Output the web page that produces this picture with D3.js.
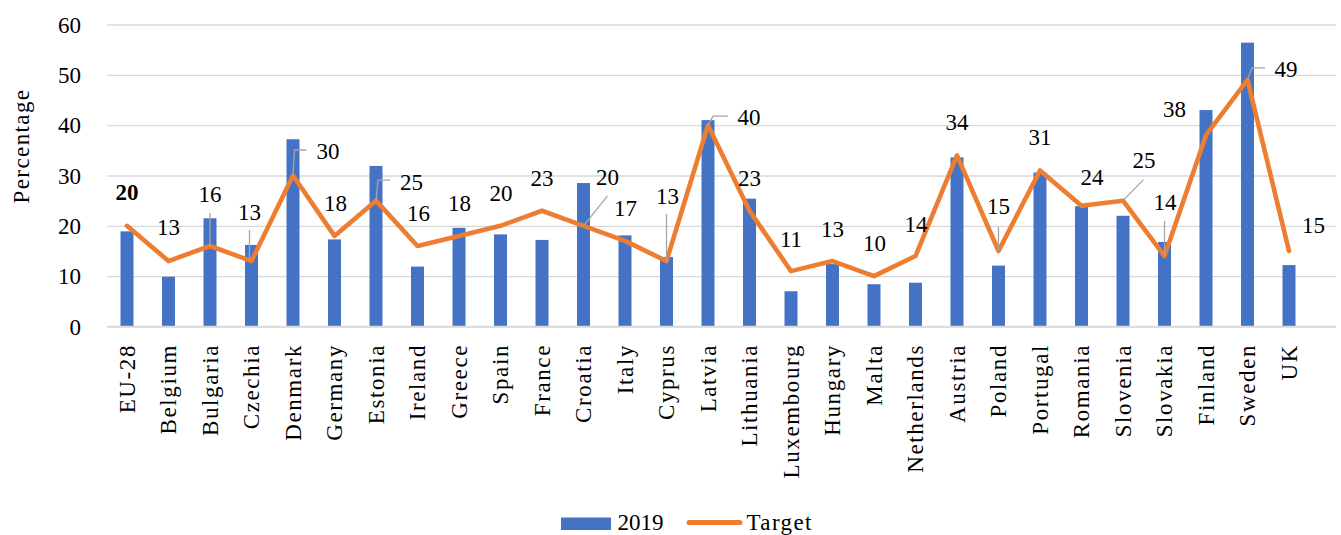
<!DOCTYPE html>
<html>
<head>
<meta charset="utf-8">
<script src="https://cdn.jsdelivr.net/npm/d3@7"></script>
<style>
  body { margin: 0; background: #fff; }
  svg text { font-family: "Liberation Serif", "Times New Roman", serif; }
</style>
</head>
<body>
<svg id="chart" width="1341" height="535"></svg>
<script>
// ---------- data ----------
const categories = ["EU-28","Belgium","Bulgaria","Czechia","Denmark","Germany","Estonia","Ireland","Greece","Spain","France","Croatia","Italy","Cyprus","Latvia","Lithuania","Luxembourg","Hungary","Malta","Netherlands","Austria","Poland","Portugal","Romania","Slovenia","Slovakia","Finland","Sweden","UK"];
const values2019 = [18.9, 9.9, 21.5, 16.2, 37.2, 17.3, 31.9, 11.9, 19.6, 18.3, 17.2, 28.5, 18.1, 13.8, 41.0, 25.4, 7.0, 12.4, 8.4, 8.7, 33.6, 12.1, 30.6, 23.9, 22.0, 16.8, 43.0, 56.4, 12.2];
const targetValues = [20, 13, 16, 13, 30, 18, 25, 16, 18, 20, 23, 20, 17, 13, 40, 23, 11, 13, 10, 14, 34, 15, 31, 24, 25, 14, 38, 49, 15];
const yTicks = [0, 10, 20, 30, 40, 50, 60];
const seriesNames = ["2019", "Target"];

// ---------- label layout (pixel offsets from each Target point) ----------
const labelOffsets = [
  [0,-26],[0,-26],[0,-44],[-2,-41],[35,-16.5],[1,-25],[35.5,-10.5],[1,-25],[0.5,-25],[0.5,-25],
  [0,-25],[24,-41],[0.5,-25],[1,-57],[41,0],[0,-25],[0,-24],[0,-24],[0.5,-25],[0.5,-24],
  [0,-25],[0,-37],[0,-25],[10.5,-21],[21,-33],[0.5,-46],[-31.5,-18],[38.5,-2.5],[24.5,-18]
];
const leaderLines = {
  2: [[0,0],[0,-33]],
  3: [[-2,0],[-2,-31]],
  4: [[0,0],[1.5,-25.5],[13.5,-25.5]],
  6: [[0,0],[2,-20.5],[14,-20.5]],
  11: [[0,0],[24,-30]],
  13: [[0,0],[0,-47]],
  14: [[0,0],[5,-9],[20,-9]],
  21: [[0,0],[0,-24]],
  24: [[0,0],[20.5,-21]],
  25: [[0,0],[0,-35]],
  27: [[0,0],[4.5,-12],[17.5,-12]]
};

// ---------- chart ----------
const svg = d3.select("#chart");
const plotLeft = 107, plotRight = 1336, plotTop = 24.5, plotBottom = 326.5;
const FS = 23;

const x = d3.scaleBand()
  .domain(categories)
  .range([106.25, 1309.75])
  .paddingInner(0.687)
  .paddingOuter(0.3435);
const cx = c => x(c) + x.bandwidth() / 2;

const y = d3.scaleLinear().domain([0, 60]).range([plotBottom, plotTop]);

// gridlines + y tick labels
const yAxis = svg.append("g")
  .attr("transform", `translate(${plotLeft},0)`)
  .call(d3.axisLeft(y).tickValues(yTicks).tickSize(-(plotRight - plotLeft)).tickPadding(26));
yAxis.select(".domain").remove();
yAxis.selectAll(".tick line").attr("stroke", "#d9d9d9").attr("stroke-width", 1.4);
yAxis.selectAll(".tick text")
  .attr("font-size", FS)
  .attr("fill", "#000")
  .attr("dy", "0.34em")
  .style("font-family", '"Liberation Serif", serif');

// y-axis title
svg.append("text")
  .attr("transform", "translate(28.5,146) rotate(-90)")
  .attr("text-anchor", "middle")
  .attr("font-size", FS)
  .attr("letter-spacing", 1.4)
  .attr("fill", "#000")
  .text("Percentage");

// bars
svg.append("g").selectAll("rect")
  .data(categories)
  .join("rect")
  .attr("x", c => x(c))
  .attr("width", x.bandwidth())
  .attr("y", (c, i) => y(values2019[i]))
  .attr("height", (c, i) => y(0) - y(values2019[i]))
  .attr("fill", "#4472C4");

// x-axis baseline
svg.append("line")
  .attr("x1", plotLeft).attr("x2", plotRight)
  .attr("y1", y(0)).attr("y2", y(0))
  .attr("stroke", "#d9d9d9").attr("stroke-width", 1.4);

// category labels
svg.append("g").selectAll("text")
  .data(categories)
  .join("text")
  .attr("transform", c => `translate(${cx(c) + 7.5},344) rotate(-90)`)
  .attr("text-anchor", "end")
  .attr("font-size", FS)
  .attr("letter-spacing", 1.6)
  .attr("fill", "#000")
  .text(c => c);

// target line
const line = d3.line()
  .x((v, i) => cx(categories[i]))
  .y(v => y(v));
svg.append("path")
  .datum(targetValues)
  .attr("d", line)
  .attr("fill", "none")
  .attr("stroke", "#ED7D31")
  .attr("stroke-width", 4.6)
  .attr("stroke-linejoin", "round")
  .attr("stroke-linecap", "round");

// leader lines
const leaderGen = d3.line();
Object.keys(leaderLines).forEach(k => {
  const i = +k;
  const px = cx(categories[i]), py = y(targetValues[i]);
  svg.append("path")
    .attr("d", leaderGen(leaderLines[k].map(p => [px + p[0], py + p[1]])))
    .attr("fill", "none")
    .attr("stroke", "#a6a6a6")
    .attr("stroke-width", 1.3);
});

// data labels
svg.append("g").selectAll("text")
  .data(targetValues)
  .join("text")
  .attr("x", (v, i) => cx(categories[i]) + labelOffsets[i][0])
  .attr("y", (v, i) => y(v) + labelOffsets[i][1])
  .attr("text-anchor", "middle")
  .attr("font-size", FS)
  .attr("font-weight", (v, i) => i === 0 ? "bold" : "normal")
  .attr("fill", "#000")
  .text(v => v);

// legend
const legend = svg.append("g");
legend.append("rect")
  .attr("x", 561).attr("y", 517.5).attr("width", 50).attr("height", 12.5)
  .attr("fill", "#4472C4");
legend.append("text")
  .attr("x", 617.5).attr("y", 529.5)
  .attr("font-size", FS).attr("fill", "#000")
  .text(seriesNames[0]);
legend.append("line")
  .attr("x1", 689).attr("x2", 740).attr("y1", 522.5).attr("y2", 522.5)
  .attr("stroke", "#ED7D31").attr("stroke-width", 5).attr("stroke-linecap", "round");
legend.append("text")
  .attr("x", 746.5).attr("y", 529.5)
  .attr("font-size", FS).attr("letter-spacing", 1.4).attr("fill", "#000")
  .text(seriesNames[1]);
</script>
</body>
</html>
